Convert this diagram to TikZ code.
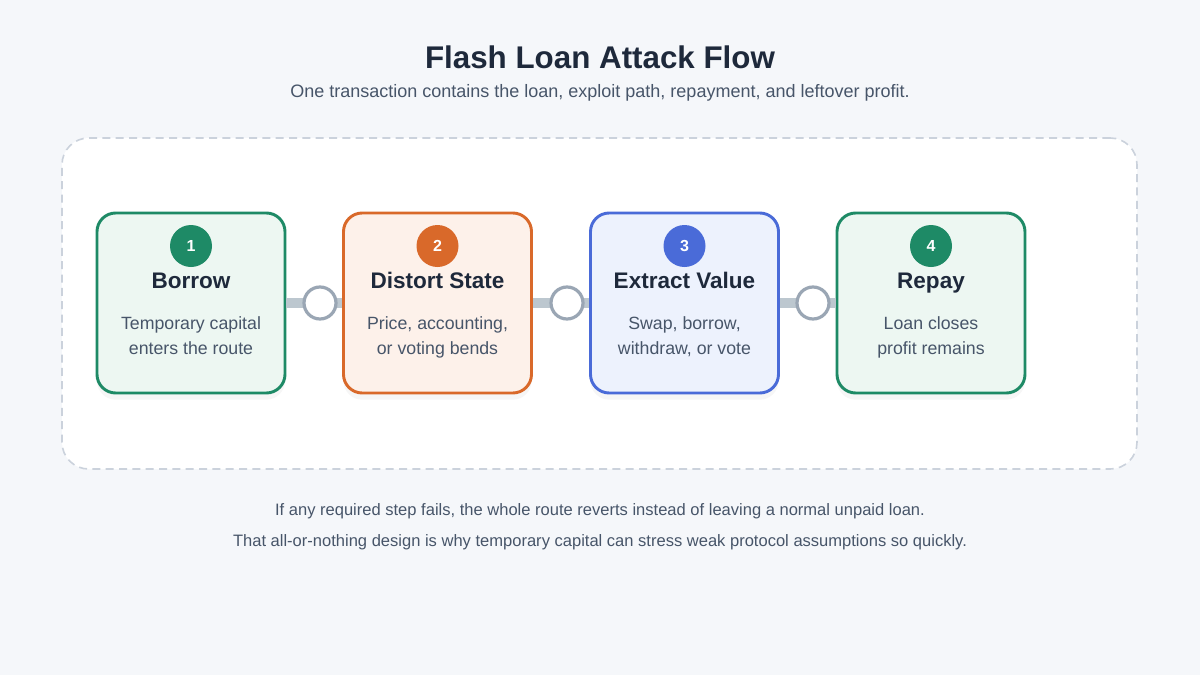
\documentclass[tikz,border=0pt]{standalone}
\usepackage{fontspec}
\setmainfont{Liberation Sans}
\usetikzlibrary{shadows}
\definecolor{bg}{HTML}{F5F7FA}
\definecolor{ink}{HTML}{1E293B}
\definecolor{body}{HTML}{475569}
\definecolor{gA}{HTML}{1E8A66}\definecolor{gF}{HTML}{EDF7F2}
\definecolor{oA}{HTML}{D9692A}\definecolor{oF}{HTML}{FDF1EA}
\definecolor{bA}{HTML}{4A6BD8}\definecolor{bF}{HTML}{EDF2FD}
\definecolor{band}{HTML}{BCC7CF}
\definecolor{ring}{HTML}{9AA6B4}
\definecolor{dash}{HTML}{CBD2DC}
\begin{document}
\begin{tikzpicture}[x=0.75pt,y=-0.75pt,
 card/.style={draw=#1A, fill=#1F, line width=2.2pt, rounded corners=14pt, minimum width=188*0.75pt, minimum height=180*0.75pt, drop shadow={opacity=0.07, shadow xshift=0pt, shadow yshift=-5pt}},
 badge/.style={circle, fill=#1, minimum size=42*0.75pt, inner sep=0pt, text=white, font=\bfseries\fontsize{12}{14}\selectfont},
 ttl/.style={anchor=base, text=ink, font=\bfseries\fontsize{16.9}{19}\selectfont},
 txt/.style={anchor=base, text=body, font=\fontsize{13.3}{16}\selectfont},
 knob/.style={circle, draw=ring, fill=white, line width=2.4pt, minimum size=32*0.75pt, inner sep=0pt},
 link/.style={draw=band, line width=7.5pt}]
\fill[bg] (0,0) rectangle (1200,675);
\useasboundingbox (0,0) rectangle (1200,675);
\node[text=ink, font=\bfseries\fontsize{23.5}{28}\selectfont] (t) at (600,57) {Flash Loan Attack Flow};
\node[text=body, font=\fontsize{13.5}{16}\selectfont] (st) at (600,93) {One transaction contains the loan, exploit path, repayment, and leftover profit.};
\node[draw=dash, fill=white, dash pattern=on 6pt off 4pt, line width=1.2pt, rounded corners=20pt, minimum width=1075*0.75pt, minimum height=331*0.75pt] (frame) at (599.5,303.5) {};
\node[card=g] (b1) at (191,303) {};
\node[card=o] (b2) at (437.5,303) {};
\node[card=b] (b3) at (684.5,303) {};
\node[card=g] (b4) at (931,303) {};
\foreach \i/\x/\c/\t/\a/\b in {1/191/gA/Borrow/Temporary capital/enters the route, 2/437.5/oA/Distort State/{Price, accounting,}/or voting bends, 3/684.5/bA/Extract Value/{Swap, borrow,}/{withdraw, or vote}, 4/931/gA/Repay/Loan closes/profit remains}{
 \node[badge=\c] (n\i) at (\x,246) {\i};
 \node[ttl] (h\i) at (\x,288) {\t};
 \node[txt] (d\i) at (\x,329) {\a};
 \node[txt] (e\i) at (\x,354) {\b};
}
\path[link] (b1.east) -- (b2.west);
\path[link] (b2.east) -- (b3.west);
\path[link] (b3.east) -- (b4.west);
\node[knob] (c1) at (320,303) {};
\node[knob] (c2) at (567,303) {};
\node[knob] (c3) at (813,303) {};
\node[text=body, font=\fontsize{12.4}{15}\selectfont] (f1) at (600,511) {If any required step fails, the whole route reverts instead of leaving a normal unpaid loan.};
\node[text=body, font=\fontsize{12.4}{15}\selectfont] (f2) at (600,542) {That all-or-nothing design is why temporary capital can stress weak protocol assumptions so quickly.};
\end{tikzpicture}
\end{document}
